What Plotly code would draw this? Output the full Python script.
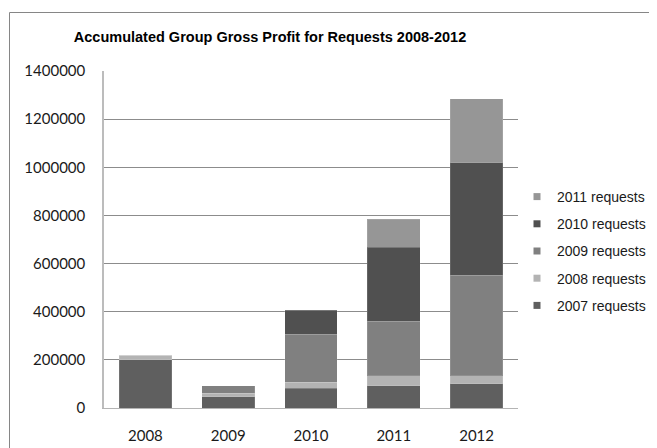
import plotly.graph_objects as go

years = ["2008", "2009", "2010", "2011", "2012"]
series_names = ["2007 requests", "2008 requests", "2009 requests", "2010 requests", "2011 requests"]
req_2007 = [200000, 46000, 82000, 93000, 100000]
req_2008 = [20000, 15000, 26000, 40000, 33000]
req_2009 = [0, 32000, 199000, 228000, 418000]
req_2010 = [0, 0, 99000, 306000, 468000]
req_2011 = [0, 0, 0, 117000, 266000]
colors = ["#5f5f5f", "#b3b3b3", "#808080", "#505050", "#969696"]

values = [req_2007, req_2008, req_2009, req_2010, req_2011]

fig = go.Figure()
for name, vals, col in zip(series_names, values, colors):
    fig.add_trace(go.Bar(
        x=years, y=vals, name=name, marker=dict(color=col, line=dict(width=1, color="rgba(255,255,255,0.12)")),
        showlegend=False,
    ))
# legend entries with small square keys (latest series on top)
n = len(series_names)
for i, (name, col) in enumerate(zip(series_names, colors)):
    fig.add_trace(go.Scatter(
        x=[None], y=[None], mode="markers", name=name, legendgroup=name,
        legendrank=n - i,
        marker=dict(symbol="square", size=7, color=col), showlegend=True,
    ))

# page has an 8px body margin: figure occupies page (8,8)-(657,448)
W, H = 649, 440
L, T = 96, 63
R, B = W - 510, H - 400
pw, ph = W - L - R, H - T - B

fig.update_layout(
    width=W, height=H,
    margin=dict(l=L, r=R, t=T, b=B, autoexpand=False),
    paper_bgcolor="white", plot_bgcolor="white",
    barmode="stack", bargap=0.364,
    title=dict(text="<b>Accumulated Group Gross Profit for Requests 2008-2012</b>",
               font=dict(family="Liberation Sans, Arial", size=14.5, color="#000000"),
               x=262 / W, xanchor="center", xref="container",
               y=1 - 29 / H, yanchor="middle", yref="container"),
    legend=dict(traceorder="grouped", font=dict(family="Liberation Sans, Arial", size=14, color="#1a1a1a"),
                xref="container", yref="container",
                x=509 / W, xanchor="left", y=1 - 173 / H, yanchor="top",
                tracegroupgap=6, bgcolor="rgba(0,0,0,0)", itemwidth=30),
    xaxis=dict(showgrid=False, showline=True, linecolor="#b4b4b4", linewidth=1,
               ticks="", tickfont=dict(family="Lato", size=15, color="#1a1a1a"),
               ticklabelstandoff=14, fixedrange=True),
    yaxis=dict(range=[0, 1400000], dtick=200000, tickformat="d",
               showgrid=True, gridcolor="#8c8c8c", gridwidth=1,
               showline=True, linecolor="#bcbcbc", linewidth=1.5,
               ticks="", tickfont=dict(family="Lato", size=15, color="#1a1a1a"),
               ticklabelstandoff=14, zeroline=False),
    shapes=[dict(type="rect", xref="paper", yref="paper",
                 x0=(1.5 - L) / pw, x1=(W + 20 - L) / pw,
                 y0=(H - B - (H + 20)) / ph, y1=(H - B - 4.5) / ph,
                 line=dict(color="#868686", width=1), fillcolor="rgba(0,0,0,0)", layer="below")],
)

fig.write_html("out.html")
